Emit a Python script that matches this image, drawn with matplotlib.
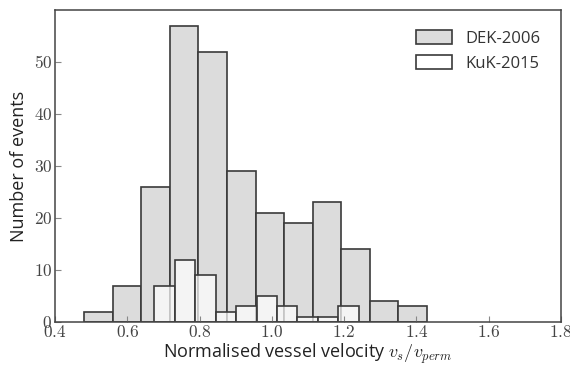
import numpy as np
import matplotlib
matplotlib.use("Agg")
import matplotlib.pyplot as plt
from matplotlib.ticker import FuncFormatter

# Histogram data: bin edges and counts per bin
dek_edges = [0.481, 0.560, 0.639, 0.718, 0.797, 0.876, 0.955, 1.034,
             1.113, 1.192, 1.271, 1.350, 1.429]
dek_counts = [2, 7, 26, 57, 52, 29, 21, 19, 23, 14, 4, 3]

kuk_edges = [0.675, 0.732, 0.788, 0.845, 0.901, 0.958, 1.014, 1.071,
             1.128, 1.184, 1.241]
kuk_counts = [7, 12, 9, 2, 3, 5, 3, 1, 1, 3]

labels = ["DEK-2006", "KuK-2015"]
x_ticks = [0.4, 0.6, 0.8, 1.0, 1.2, 1.4, 1.6, 1.8]
y_ticks = [0, 10, 20, 30, 40, 50]

plt.rcParams["mathtext.fontset"] = "cm"
plt.rcParams["font.family"] = ["Open Sans", "DejaVu Sans"]

fig = plt.figure(figsize=(5.7, 3.7), dpi=100)
ax = fig.add_axes([0.0965, 0.13, 0.8875, 0.843])

edge = "#3a3a3a"
ax.hist(dek_edges[:-1], bins=dek_edges, weights=dek_counts,
        facecolor="#dcdcdc", edgecolor=edge, linewidth=1.2, label=labels[0])
ax.hist(kuk_edges[:-1], bins=kuk_edges, weights=kuk_counts,
        facecolor=(1, 1, 1, 0.7), edgecolor=edge, linewidth=1.2, label=labels[1])

ax.set_xlim(0.4, 1.8)
ax.set_ylim(0, 60)
ax.set_xticks(x_ticks)
ax.set_yticks(y_ticks)
ax.xaxis.set_major_formatter(FuncFormatter(lambda v, p: r"$%.1f$" % v))
ax.yaxis.set_major_formatter(FuncFormatter(lambda v, p: r"$%d$" % v))
ax.tick_params(direction="in", length=4, width=0.8, color="#888888",
               labelsize=12.5, labelcolor="#444444", pad=2)

for s in ax.spines.values():
    s.set_color("#444444")
    s.set_linewidth(1.1)

ax.set_xlabel(r"Normalised vessel velocity $v_s/v_{perm}$", fontsize=13,
              color="#222222", labelpad=1)
ax.set_ylabel("Number of events", fontsize=13, color="#222222", labelpad=4)

leg = ax.legend(loc="upper right", frameon=False, fontsize=12,
                handlelength=2.2, handleheight=0.9, borderaxespad=0.8,
                labelspacing=0.5, handletextpad=0.8)
for t in leg.get_texts():
    t.set_color("#333333")

fig.savefig("out.png", dpi=100)
